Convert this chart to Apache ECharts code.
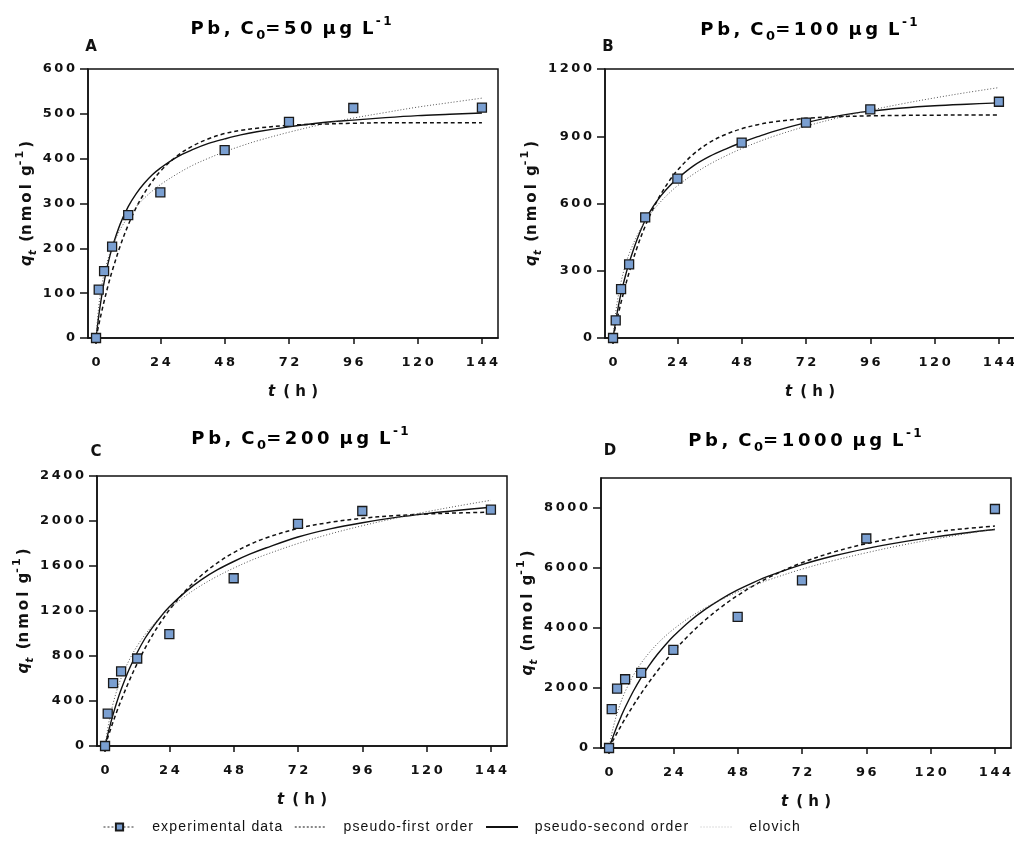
<!DOCTYPE html>
<html>
<head>
<meta charset="utf-8">
<script src="https://cdn.jsdelivr.net/npm/echarts@6/dist/echarts.min.js"></script>
<style>
  html, body { margin: 0; padding: 0; background: #fff; }
  #chart { width: 1014px; height: 848px; }
</style>
</head>
<body>
<div id="chart"></div>
<script>
// ---- data -------------------------------------------------------------
// sampling times of the batch experiment (h)
const timesH = [0, 1, 3, 6, 12, 24, 48, 72, 96, 144];
// times at which the fitted kinetic curves are tabulated (h)
const fitTimesH = [0, 1, 2, 3, 4.5, 6, 9, 12, 15, 18, 21, 24, 30, 36, 42, 48, 54, 60, 72, 84, 96, 108, 120, 132, 144];

// Pb uptake q_t (nmol/g), C0 = 50 µg/L
const expA  = [0, 108, 149, 204, 274, 325, 419, 482, 513, 514];
const pfoA  = [0, 29, 56, 81.5, 117, 149, 205, 252, 291, 323, 349.5, 372, 405, 428, 444.5, 456, 463, 468, 474.5, 477, 479, 480, 480, 480, 480];
const psoA  = [0, 49, 89.5, 124, 167, 201, 254, 293, 322, 345, 364, 379, 403, 420, 434, 444, 453, 460, 471, 480, 486, 491.5, 496, 499, 502];
const elovA = [0, 70, 112.5, 143, 177, 203, 242, 270, 293, 312, 328, 342, 365, 385, 401, 415.5, 428, 439.5, 459, 476, 490.5, 503, 515, 525, 535];

// C0 = 100 µg/L
const expB  = [0, 79, 218, 328, 538, 711, 872, 961, 1020, 1054];
const pfoB  = [0, 56, 109, 159, 228.5, 292, 405, 499, 578, 645, 701, 748, 820, 872, 908, 933.5, 951.6, 964, 980, 987, 991, 993, 994, 995, 995];
const psoB  = [0, 75, 142, 200, 272, 335, 440, 525, 587, 636, 677, 711, 768, 810, 843, 872, 898, 922, 961, 991, 1012, 1026, 1036, 1043, 1049];
const elovB = [0, 114, 192, 251, 321, 375, 457.5, 520, 570, 611, 647, 678.5, 731, 775, 812, 845, 874, 900, 944.5, 982.5, 1016, 1045, 1071, 1095, 1117];

// C0 = 200 µg/L
const expC  = [0, 287, 559, 663, 778, 994, 1491, 1974, 2089, 2101];
const pfoC  = [0, 74, 145, 214, 313, 406, 578, 733, 872, 997, 1109, 1209, 1380, 1518, 1629, 1719, 1791, 1849, 1934, 1988, 2024, 2047, 2062, 2072, 2078];
const psoC  = [0, 101, 194, 280, 397, 502, 682, 831, 960, 1064, 1156, 1237, 1370, 1479, 1567, 1640, 1705, 1760, 1858, 1930, 1985, 2030, 2066, 2096, 2122];
const elovC = [0, 155, 277, 377.5, 501, 603, 763, 889, 992, 1078, 1154, 1221, 1334, 1429, 1510, 1581, 1645, 1701, 1800, 1885, 1958, 2023, 2082, 2135, 2184];

// C0 = 1000 µg/L
const expD  = [0, 1296, 1978, 2291, 2503, 3274, 4369, 5587, 6983, 7966];
const pfoD  = [0, 171, 339, 503, 742, 973, 1411, 1822, 2205, 2564, 2900, 3213, 3779, 4274, 4707, 5085, 5415, 5704, 6176, 6537, 6812, 7022, 7183, 7305, 7398];
const psoD  = [0, 257, 500, 730, 1052, 1350, 1884, 2348, 2755, 3115, 3436, 3724, 4219, 4629, 4974, 5268, 5523, 5745, 6113, 6407, 6646, 6845, 7013, 7157, 7281];
const elovD = [0, 462, 837, 1152, 1548, 1878, 2410, 2831, 3176, 3472, 3729, 3957, 4348, 4674, 4954, 5201, 5418, 5616, 5962, 6254, 6507, 6738, 6942, 7126, 7296];

// tick labels
const xTicks  = [0, 24, 48, 72, 96, 120, 144];
const yTicksA = [0, 100, 200, 300, 400, 500, 600];
const yTicksB = [0, 300, 600, 900, 1200];
const yTicksC = [0, 400, 800, 1200, 1600, 2000, 2400];
const yTicksD = [0, 2000, 4000, 6000, 8000];

const concentrations = ['50', '100', '200', '1000'];
const panelLetters   = ['A', 'B', 'C', 'D'];
const seriesNames    = ['experimental data', 'pseudo-first order', 'pseudo-second order', 'elovich'];

// ---- layout & style ---------------------------------------------------
const panels = [
  { exp: expA, pfo: pfoA, pso: psoA, elov: elovA, ticks: yTicksA, yMax: 600,
    grid: { left: 88,  top: 69,  width: 410, height: 269 }, nameGap: 49,
    titlePos: [291, 29], letterPos: [91, 47] },
  { exp: expB, pfo: pfoB, pso: psoB, elov: elovB, ticks: yTicksB, yMax: 1200,
    grid: { left: 605, top: 69,  width: 410, height: 269 }, nameGap: 50,
    titlePos: [809, 30], letterPos: [608, 47] },
  { exp: expC, pfo: pfoC, pso: psoC, elov: elovC, ticks: yTicksC, yMax: 2400,
    grid: { left: 97,  top: 476, width: 410, height: 270 }, nameGap: 50,
    titlePos: [300, 439], letterPos: [96, 452] },
  { exp: expD, pfo: pfoD, pso: psoD, elov: elovD, ticks: yTicksD, yMax: 9000,
    grid: { left: 601, top: 478, width: 410, height: 270 }, nameGap: 57,
    titlePos: [805, 441], letterPos: [610, 451] }
];

const BOLD_FONT = '"DejaVu Sans", "Liberation Sans", sans-serif';
const THIN = '\u2009';
const HAIR = '\u200A';
const spread = (s, sep) => s.split('').join(sep === undefined ? THIN : sep);
const WORD = ' ' + THIN;

const boldStyle = (size) => ({
  fontFamily: BOLD_FONT, fontWeight: 'bold', fontSize: size, color: '#111'
});

const pairs = (xs, ys) => xs.map((x, k) => [x, ys[k]]);

// ---- build option -----------------------------------------------------
const grids = [], xAxes = [], yAxes = [], series = [], graphics = [];

panels.forEach((p, i) => {
  grids.push(Object.assign({
    show: true, borderColor: '#111', borderWidth: 1.5,
    backgroundColor: 'transparent', containLabel: false, outerBoundsMode: 'none'
  }, p.grid));

  xAxes.push({
    type: 'value', gridIndex: i, min: -3, max: 150,
    axisLine: { show: true, onZero: false, lineStyle: { color: '#111', width: 1.5 } },
    axisTick: { show: true, customValues: xTicks, length: 6, lineStyle: { color: '#111', width: 1.5 } },
    axisLabel: { customValues: xTicks, margin: 18, formatter: v => spread(String(v)), ...boldStyle(13) },
    splitLine: { show: false },
    name: '{i|t}{b|' + THIN + ' ( ' + 'h' + ' )}',
    nameLocation: 'middle', nameGap: 47,
    nameTextStyle: {
      rich: {
        i: { ...boldStyle(15), fontStyle: 'italic' },
        b: boldStyle(15)
      }
    }
  });

  yAxes.push({
    type: 'value', gridIndex: i, min: 0, max: p.yMax,
    axisLine: { show: true, onZero: false, lineStyle: { color: '#111', width: 1.5 } },
    axisTick: { show: true, customValues: p.ticks, length: 8, lineStyle: { color: '#111', width: 1.5 } },
    axisLabel: { customValues: p.ticks, margin: 13, formatter: v => spread(String(v)), ...boldStyle(13) },
    splitLine: { show: false },
    name: '{i|q}{s|t}{b|' + THIN + ' (' + spread('nmol') + WORD + 'g}{p|-' + THIN + '1}{b|' + THIN + ')}',
    nameLocation: 'middle', nameGap: p.nameGap, nameRotate: 90,
    nameTextStyle: {
      rich: {
        i: { ...boldStyle(15), fontStyle: 'italic', lineHeight: 24 },
        s: { ...boldStyle(11), fontStyle: 'italic', lineHeight: 11, verticalAlign: 'bottom' },
        b: { ...boldStyle(15), lineHeight: 24 },
        p: { ...boldStyle(11), lineHeight: 11, verticalAlign: 'top' }
      }
    }
  });

  const common = { xAxisIndex: i, yAxisIndex: i, silent: true, animation: false };
  series.push(
    Object.assign({
      name: seriesNames[0], type: 'line', data: pairs(timesH, p.exp),
      symbol: 'rect', symbolSize: 9, showSymbol: true,
      lineStyle: { opacity: 0 },
      itemStyle: { color: '#7a9fd1', borderColor: '#1a1a1a', borderWidth: 1.3, opacity: 1 },
      z: 5
    }, common),
    Object.assign({
      name: seriesNames[1], type: 'line', data: pairs(fitTimesH, p.pfo),
      symbol: 'none', smooth: 0.35,
      itemStyle: { color: '#111' },
      lineStyle: { color: '#111', width: 1.5, type: [4, 3] }
    }, common),
    Object.assign({
      name: seriesNames[2], type: 'line', data: pairs(fitTimesH, p.pso),
      symbol: 'none', smooth: 0.35,
      itemStyle: { color: '#111' },
      lineStyle: { color: '#111', width: 1.4, type: 'solid' }
    }, common),
    Object.assign({
      name: seriesNames[3], type: 'line', data: pairs(fitTimesH, p.elov),
      symbol: 'none', smooth: 0.35,
      itemStyle: { color: '#555' },
      lineStyle: { color: '#555', width: 1, type: [1, 2] }
    }, common)
  );

  // panel title: Pb, C0 = ... µg L-1
  graphics.push({
    type: 'text', x: p.titlePos[0], y: p.titlePos[1], silent: true,
    style: {
      text: '{b|' + spread('Pb,') + WORD + 'C}{sub|' + THIN + '0}{b|' + spread('=' + concentrations[i]) +
            WORD + spread('μg') + WORD + 'L}{sup|' + THIN + '-' + THIN + '1}',
      align: 'center', verticalAlign: 'middle',
      rich: {
        b:   { ...boldStyle(18), lineHeight: 26 },
        sub: { ...boldStyle(13), lineHeight: 13, verticalAlign: 'bottom' },
        sup: { ...boldStyle(12), lineHeight: 12, verticalAlign: 'top' }
      }
    }
  });
  // panel letter
  graphics.push({
    type: 'text', x: p.letterPos[0], y: p.letterPos[1], silent: true,
    style: { text: panelLetters[i], align: 'center', verticalAlign: 'middle',
             font: 'bold 15px ' + BOLD_FONT, fill: '#111' }
  });
});

const hiddenMark = { color: 'rgba(0,0,0,0)', borderColor: 'rgba(0,0,0,0)', borderWidth: 0, opacity: 0 };

const option = {
  animation: false,
  backgroundColor: '#fff',
  grid: grids,
  xAxis: xAxes,
  yAxis: yAxes,
  series: series,
  graphic: graphics,
  legend: {
    left: 98, top: 815,
    itemWidth: 32, itemHeight: 9, itemGap: 12,
    selectedMode: false,
    data: [
      { name: seriesNames[0], lineStyle: { opacity: 1, color: '#333', width: 1, type: [2, 2] } },
      { name: seriesNames[1], itemStyle: hiddenMark, lineStyle: { color: '#111', width: 1.2, type: [2, 2] } },
      { name: seriesNames[2], itemStyle: hiddenMark },
      { name: seriesNames[3], itemStyle: hiddenMark, lineStyle: { color: '#bbb', width: 1, type: [1, 2] } }
    ],
    formatter: name => '   ' + spread(name, HAIR),
    textStyle: { fontFamily: '"Liberation Sans", Arial, sans-serif', fontSize: 14, color: '#111' }
  }
};

const chart = echarts.init(document.getElementById('chart'), null, { renderer: 'canvas' });
chart.setOption(option);
</script>
</body>
</html>
